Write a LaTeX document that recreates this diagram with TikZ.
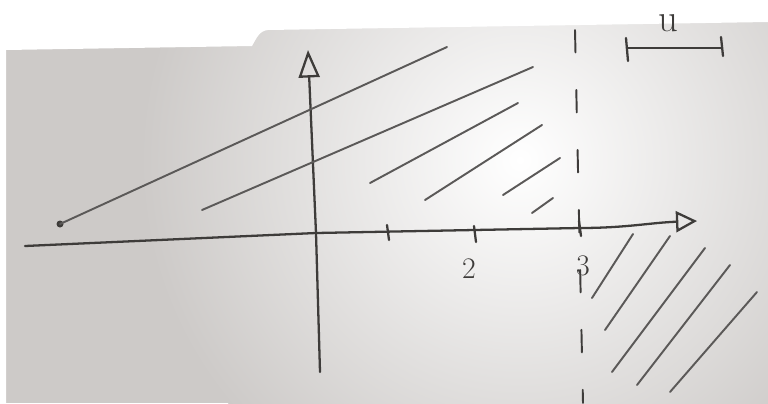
\documentclass[tikz,border=0pt]{standalone}
\usetikzlibrary{arrows.meta}

\definecolor{paper}{RGB}{205,202,200}
\definecolor{pencil}{RGB}{62,60,58}

\begin{document}
\begin{tikzpicture}[x=0.02cm, y=-0.02cm, line cap=round,
  pen/.style={draw=pencil, line width=1.3pt},
  hatch/.style={draw=pencil!85, line width=1.1pt},
  opentip/.style={-{Triangle[open, length=#1, width=0.42cm, line width=1.3pt]}},
  ticklabel/.style={text=pencil, font=\fontsize{17}{17}\selectfont, inner sep=0pt}]

  % paper and light
  \useasboundingbox (0,0) rectangle (768,403);
  \fill[paper] (0,0) rectangle (768,403);
  \begin{scope}
    \clip (0,0) rectangle (768,403);
    \shade[inner color=white, outer color=paper] (520,160) circle (380);
    \fill[white] (0,0) -- (768,0) -- (768,22) -- (268,30)
      to[out=185,in=60] (252,46) -- (6,50) -- (6,403) -- (0,403) -- cycle;
  \end{scope}

  % axes
  \coordinate (origin) at (316,233);
  \coordinate (xstart) at (25,246);
  \coordinate (xthree) at (580,228);
  \coordinate (xend) at (697,221);
  \coordinate (ystart) at (320,372);
  \coordinate (yend) at (308,50);
  \draw[pen, opentip=0.42cm] (xstart) -- (origin) -- (xthree) to[out=0,in=182] (xend);
  \draw[pen, opentip=0.55cm] (ystart) -- (origin) -- (yend);

  % ticks
  \draw[pen] (387,225) -- (389,240);
  \draw[pen] (474,226) -- (476,242);
  \draw[pen] (579,221) -- (581,236);
  \node[ticklabel] (two) at (469,269) {2};
  \node[ticklabel] (three) at (583,266) {3};

  % dashed boundary
  \draw[pen, line width=1.1pt, dash pattern=on 0.45cm off 0.75cm] (575,30) -- (583,403);

  % hatching above
  \fill[pencil] (60,224) circle (3.5);
  \draw[hatch] (60,224) -- (447,47);
  \draw[hatch] (202,210) -- (533,67);
  \draw[hatch] (370,183) -- (518,103);
  \draw[hatch] (425,200) -- (542,125);
  \draw[hatch] (503,195) -- (560,158);
  \draw[hatch] (532,213) -- (553,198);

  % hatching below right
  \draw[hatch] (592,298) -- (633,234);
  \draw[hatch] (605,330) -- (670,236);
  \draw[hatch] (612,372) -- (705,248);
  \draw[hatch] (637,385) -- (730,265);
  \draw[hatch] (670,392) -- (757,292);

  % unit bar
  \coordinate (uleft) at (627,48);
  \coordinate (uright) at (722,48);
  \draw[pen] (uleft) -- (uright);
  \draw[pen] (626,38) -- (628,61);
  \draw[pen] (721,37) -- (723,56);
  \node[ticklabel, font=\fontsize{22}{22}\selectfont] (unit) at (668,23) {u};
\end{tikzpicture}
\end{document}
